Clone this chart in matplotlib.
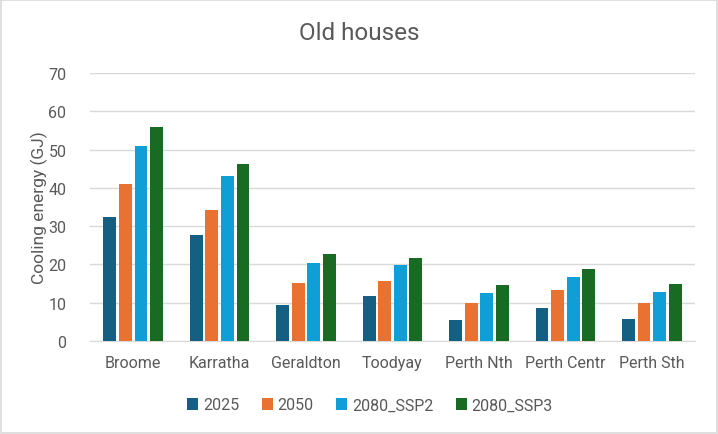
import matplotlib
matplotlib.use("Agg")
import matplotlib.pyplot as plt
from matplotlib.patches import Rectangle
import numpy as np

plt.rcParams['font.family'] = ['Roboto', 'DejaVu Sans']

# datos
locations = ['Broome', 'Karratha', 'Geraldton', 'Toodyay', 'Perth Nth', 'Perth Centr', 'Perth Sth']
y2025 = [32.4, 27.8, 9.5, 11.7, 5.6, 8.7, 5.8]
y2050 = [41.1, 34.3, 15.2, 15.8, 9.8, 13.2, 9.8]
ssp2 = [51.0, 43.2, 20.5, 19.8, 12.6, 16.6, 12.9]
ssp3 = [56.0, 46.3, 22.6, 21.8, 14.7, 18.8, 15.0]
series_names = ['2025', '2050', '2080_SSP2', '2080_SSP3']
colors = ['#156082', '#E97132', '#0F9ED5', '#196B24']

fig = plt.figure(figsize=(7.18, 4.35), dpi=100)
ax = fig.add_axes([90/718, 1-342/435, 605/718, 268/435])

x = np.arange(len(locations))
step = 0.18
width = 0.148
for i, (vals, name) in enumerate(zip([y2025, y2050, ssp2, ssp3], series_names)):
    ax.bar(x + (i - 1.5)*step, vals, width, color=colors[i], label=name, zorder=3)

ax.set_xlim(-0.5, len(locations) - 0.5)
ax.set_ylim(0, 70)
ax.set_yticks(range(0, 71, 10))
ax.set_xticks(x)
ax.set_xticklabels(locations)
ax.tick_params(length=0, labelsize=11.5, colors='#595959', pad=10)
ax.tick_params(axis='y', pad=17)
ax.grid(axis='y', color='#d9d9d9', linewidth=1, zorder=0)
for s in ['top', 'right', 'left']:
    ax.spines[s].set_visible(False)
ax.spines['bottom'].set_color('#d9d9d9')
ax.set_ylabel('Cooling energy (GJ)', fontsize=12.5, color='#595959')
ax.yaxis.set_label_coords(-42/605, 0.5)

fig.text(359/718, 1-33/435, 'Old houses', ha='center', va='center', fontsize=17.5, color='#595959')

ax.legend(loc='center', bbox_to_anchor=(370/718, 1-406/435), bbox_transform=fig.transFigure,
          ncol=4, frameon=False, fontsize=11.5, labelcolor='#595959',
          handlelength=0.7, handleheight=0.7, handletextpad=0.3, columnspacing=1.4)

fig.patches.append(Rectangle((0.002, 0.003), 0.996, 0.994, transform=fig.transFigure,
                             fill=False, edgecolor='#d9d9d9', linewidth=1.2))

fig.savefig('out.png', dpi=100)
